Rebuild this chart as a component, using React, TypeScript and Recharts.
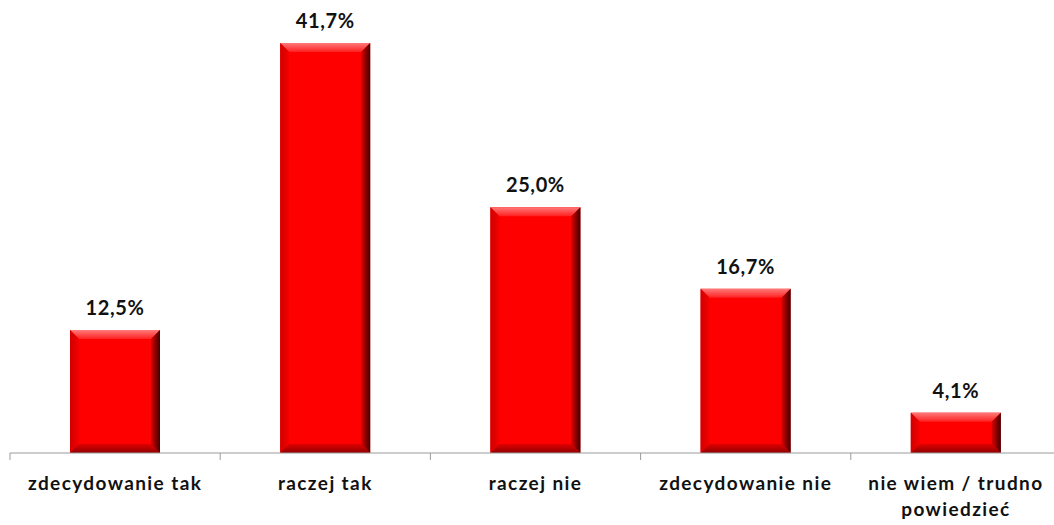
import { BarChart, Bar, XAxis, YAxis, LabelList } from "recharts";

const CATEGORIES = ["zdecydowanie tak", "raczej tak", "raczej nie", "zdecydowanie nie", "nie wiem / trudno powiedzieć"];
const VALUES = [12.5, 41.7, 25.0, 16.7, 4.1];
const TICK_LINES = [["zdecydowanie tak"], ["raczej tak"], ["raczej nie"], ["zdecydowanie nie"], ["nie wiem / trudno", "powiedzieć"]];

const DATA = CATEGORIES.map((name, i) => ({ name, pos: i + 0.5, value: VALUES[i] }));
const TICKS = [0, 0.5, 1, 1.5, 2, 2.5, 3, 3.5, 4, 4.5, 5];

const FONT = "Lato, 'Open Sans', sans-serif";

function BevelBar(props: any) {
  const { x, y, width, height } = props;
  if (!height || height <= 0) return null;
  const b = Math.min(9, height / 3, width / 3);
  const r = x + width;
  const btm = y + height;
  return (
    <g>
      <rect x={x} y={y} width={width} height={height} fill="#ff0000" />
      <polygon points={`${x},${y} ${r},${y} ${r - b},${y + b} ${x + b},${y + b}`} fill="url(#bevTop)" />
      <polygon points={`${x},${y} ${x + b},${y + b} ${x + b},${btm - b} ${x},${btm}`} fill="url(#bevLeft)" />
      <polygon points={`${r},${y} ${r},${btm} ${r - b},${btm - b} ${r - b},${y + b}`} fill="url(#bevRight)" />
      <polygon points={`${x},${btm} ${x + b},${btm - b} ${r - b},${btm - b} ${r},${btm}`} fill="url(#bevBottom)" />
    </g>
  );
}

function AxisTick(props: any) {
  const { x, y, payload } = props;
  const v = payload.value as number;
  if (Number.isInteger(v)) {
    return <line x1={x} y1={y} x2={x} y2={y + 7} stroke="#9a9a9a" strokeWidth={1} />;
  }
  const lines = TICK_LINES[Math.floor(v)];
  return (
    <text
      x={x}
      y={y + 37}
      textAnchor="middle"
      fontFamily={FONT}
      fontWeight={700}
      fontSize={19}
      letterSpacing={1.4}
      fill="#111"
    >
      {lines.map((l, i) => (
        <tspan key={i} x={x} dy={i === 0 ? 0 : 26}>{l}</tspan>
      ))}
    </text>
  );
}

export default function App() {
  return (
    <div style={{ position: "absolute", left: 0, top: 0, width: 1054, height: 525, overflow: "hidden", background: "#fff" }}>
      <BarChart width={1061} height={525} data={DATA} margin={{ top: 43, right: 0, left: 10, bottom: 0 }}>
        <defs>
          <linearGradient id="bevTop" x1="0" y1="0" x2="0" y2="1">
            <stop offset="0%" stopColor="#ff7a7a" />
            <stop offset="100%" stopColor="#ff2020" />
          </linearGradient>
          <linearGradient id="bevLeft" x1="0" y1="0" x2="1" y2="0">
            <stop offset="0%" stopColor="#d00000" />
            <stop offset="100%" stopColor="#f50000" />
          </linearGradient>
          <linearGradient id="bevRight" x1="1" y1="0" x2="0" y2="0">
            <stop offset="0%" stopColor="#400000" />
            <stop offset="100%" stopColor="#d80000" />
          </linearGradient>
          <linearGradient id="bevBottom" x1="0" y1="1" x2="0" y2="0">
            <stop offset="0%" stopColor="#900000" />
            <stop offset="100%" stopColor="#e00000" />
          </linearGradient>
        </defs>
        <XAxis
          dataKey="pos"
          type="number"
          domain={[0, 5]}
          ticks={TICKS}
          interval={0}
          tickLine={false}
          tickSize={0}
          tickMargin={0}
          height={72}
          axisLine={{ stroke: "#9a9a9a", strokeWidth: 1 }}
          tick={<AxisTick />}
        />
        <YAxis hide domain={[0, 41.7]} />
        <Bar dataKey="value" barSize={90} shape={<BevelBar />} isAnimationActive={false}>
          <LabelList
            dataKey="value"
            position="top"
            offset={15}
            formatter={(v: any) => `${Number(v).toFixed(1).replace(".", ",")}%`}
            style={{ fontFamily: FONT, fontWeight: 700, fontSize: 20, letterSpacing: 0.6, fill: "#111" }}
          />
        </Bar>
      </BarChart>
    </div>
  );
}
